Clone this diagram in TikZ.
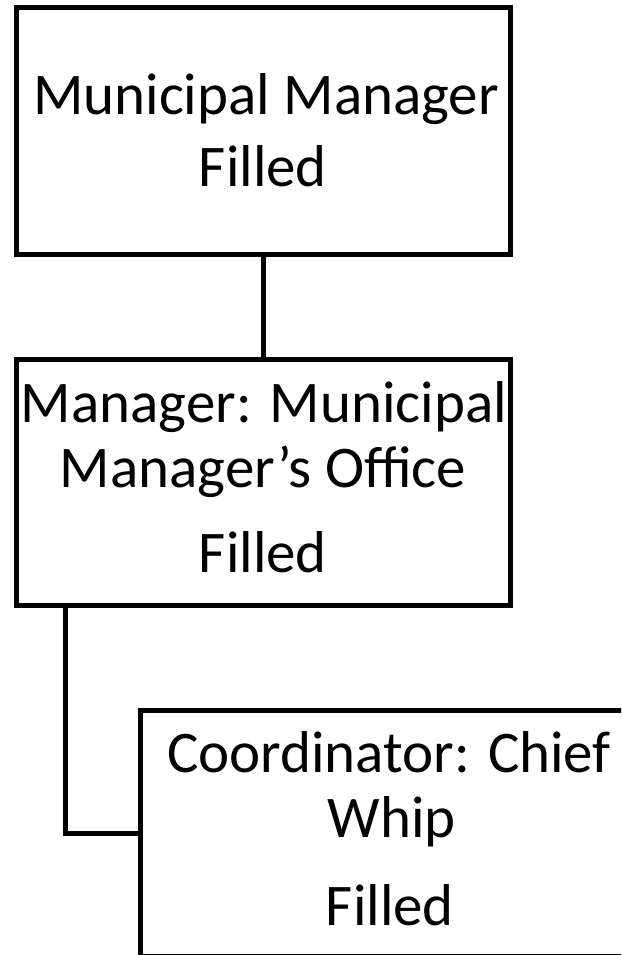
\documentclass[tikz,border=0pt]{standalone}
\usepackage{fontspec}
\setmainfont{Carlito}
\begin{document}
\begin{tikzpicture}[x=1pt,y=-1pt,
  box/.style={draw=black,line width=5pt,rectangle,minimum width=494pt,minimum height=246pt,inner sep=0pt,outer sep=0pt},
  lbl/.style={anchor=base,inner sep=0pt,font=\fontsize{59}{70}\selectfont},
  conn/.style={draw=black,line width=5pt}]
\fill[white] (0,0) rectangle (621,955);
\useasboundingbox (0,0) rectangle (621,955);
\begin{scope}
\clip (0,0) rectangle (621,955);
\node[box] (b1) at (263,131) {};
\node[box] (b2) at (263,482) {};
\node[box,minimum width=500pt,anchor=west] (b3) at (140,833) {};
\node[lbl] (t1a) at (266,115) {Municipal Manager};
\node[lbl] (t1b) at (263,186) {Filled};
\node[lbl] (t2a) at (264,422) {Manager: Municipal};
\node[lbl] (t2b) at (263,487) {Manager’s Office};
\node[lbl] (t2c) at (263,572) {Filled};
\node[lbl] (t3a) at (389,772) {Coordinator: Chief};
\node[lbl] (t3b) at (392,837) {Whip};
\node[lbl] (t3c) at (390,925) {Filled};
\coordinate (c2) at (65,605);
\draw[conn] (b1.south) -- (b2.north);
\draw[conn] (c2) |- (b3.west);
\end{scope}
\end{tikzpicture}
\end{document}
